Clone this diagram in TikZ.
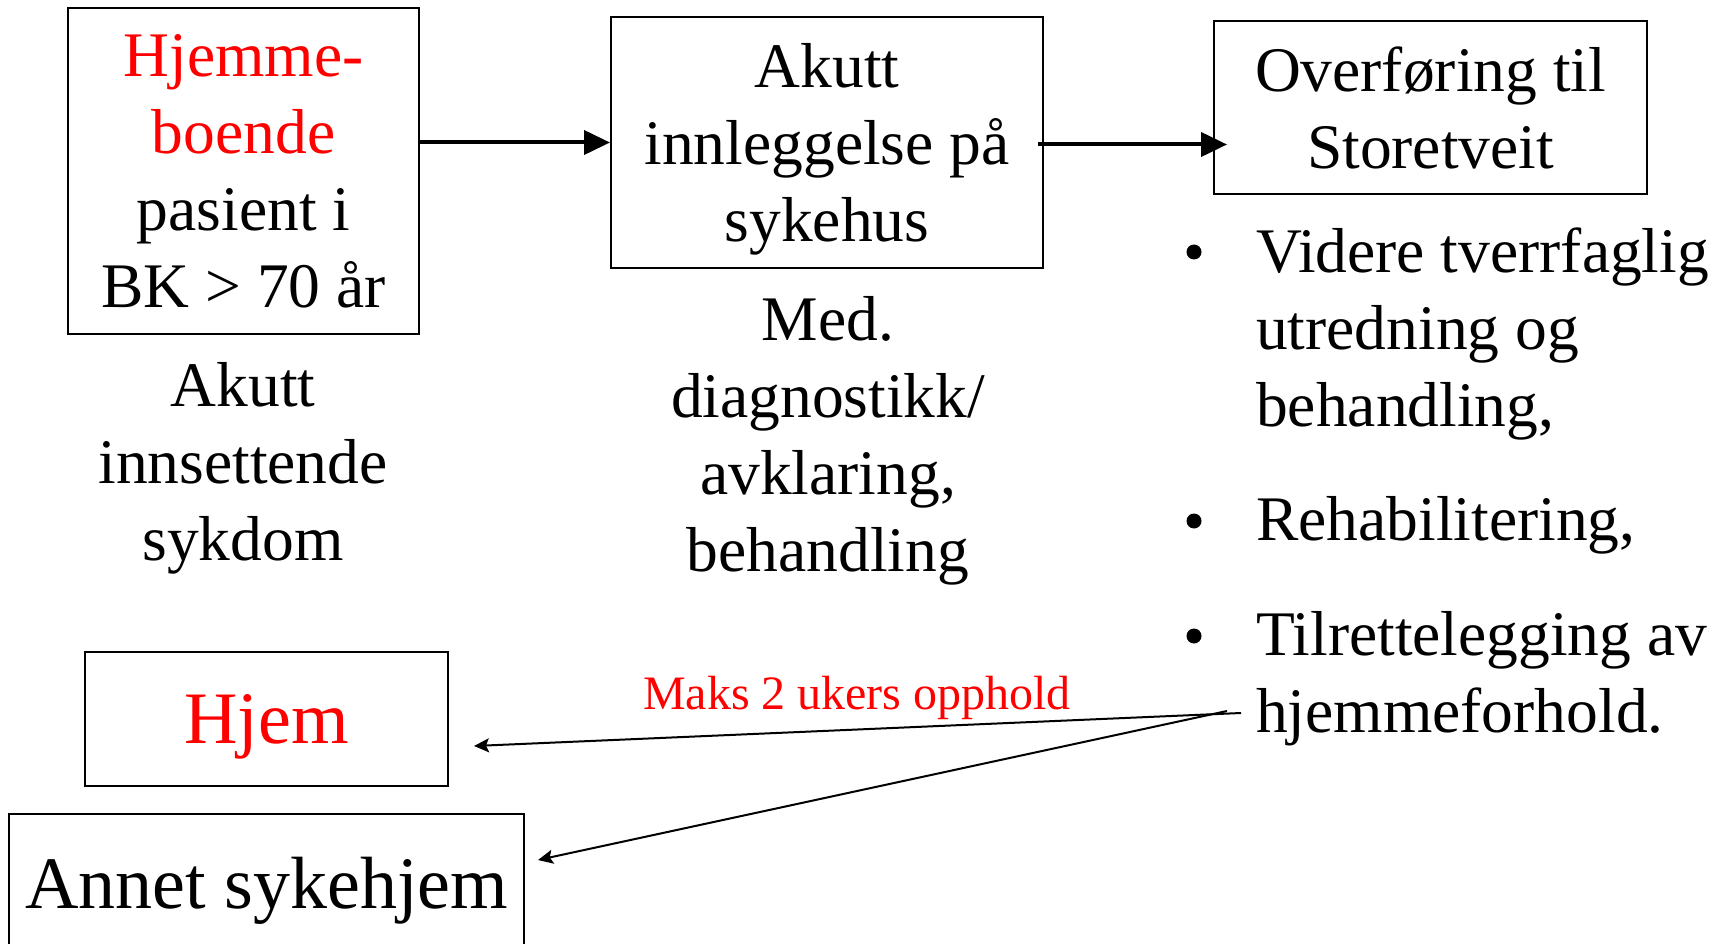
\documentclass[tikz,border=0pt]{standalone}
\usepackage{fontspec}
\setmainfont{Liberation Serif}
\usetikzlibrary{arrows.meta,calc}
\newcommand\diagbig{\fontsize{63.5}{76.7}\selectfont}
\newcommand\diaghuge{\fontsize{74}{88}\selectfont}
\newcommand\diagsmall{\fontsize{48}{58}\selectfont}
\begin{document}
\begin{tikzpicture}[x=1pt,y=-1pt,
  box/.style={draw=black,line width=2pt,inner sep=0pt,align=center,text depth=0pt,font=\diagbig},
  lowtext/.style={inner sep=0pt,align=center,font=\diagbig},
  bullettext/.style={inner sep=0pt,align=left,font=\diagbig,anchor=base west},
  dot/.style={circle,fill=black,inner sep=0pt,minimum size=15pt},
  bigarrow/.style={line width=4pt,-{Triangle[length=26pt,width=24pt]}},
  thinarrow/.style={line width=2pt,-{Stealth[length=15pt,width=14pt,inset=3pt]}}]
\useasboundingbox (0,0) rectangle (1725,944);
% boxes
\node[box,minimum width=351pt,minimum height=326pt] (patient) at (243.5,171)
  {{\color{red}Hjemme-}\\{\color{red}boende}\\pasient i\\BK > 70 år};
\node[box,minimum width=432pt,minimum height=251pt] (hospital) at (827,142.5)
  {Akutt\\innleggelse på\\sykehus};
\node[box,minimum width=433pt,minimum height=173pt] (transfer) at (1430.5,107.5)
  {Overføring til\\Storetveit};
\node[box,font=\diaghuge,text=red,minimum width=363pt,minimum height=134pt] (hjem) at (266.5,719)
  {Hjem};
\node[box,font=\diaghuge,minimum width=515pt,minimum height=138pt] (annet) at (266.5,883)
  {Annet sykehjem};
% texts below boxes (base anchor = last line's baseline)
\node[lowtext,anchor=base] (sick) at (243,560) {Akutt\\innsettende\\sykdom};
\node[lowtext,anchor=base] (med) at (828,571) {Med.\\diagnostikk/\\avklaring,\\behandling};
% bullets
\node[dot] (d1) at (1194,252) {};
\node[bullettext] (b1) at (1256,426) {Videre tverrfaglig\\utredning og\\behandling,};
\node[dot] (d2) at (1194,521) {};
\node[bullettext] (b2) at (1256,540) {Rehabilitering,};
\node[dot] (d3) at (1194,636) {};
\node[bullettext] (b3) at (1256,732) {Tilrettelegging av\\hjemmeforhold.};
% label
\node[inner sep=0pt,text=red,font=\diagsmall,anchor=base] (maks) at (857,709) {Maks 2 ukers opphold};
% connectors
\draw[bigarrow] (patient.east |- hospital.west) -- (hospital.west);
\draw[bigarrow,shorten <=-6pt,shorten >=-14pt] ([yshift=-2pt]hospital.east) -- ([yshift=-2pt]hospital.east -| transfer.west);
\coordinate (srcA) at (1241,713);
\coordinate (srcB) at (1227,711);
\draw[thinarrow] (srcA) -- ($(hjem.east)+(25,27)$);
\draw[thinarrow] (srcB) -- ($(annet.east)+(13,-23)$);
\end{tikzpicture}
\end{document}
